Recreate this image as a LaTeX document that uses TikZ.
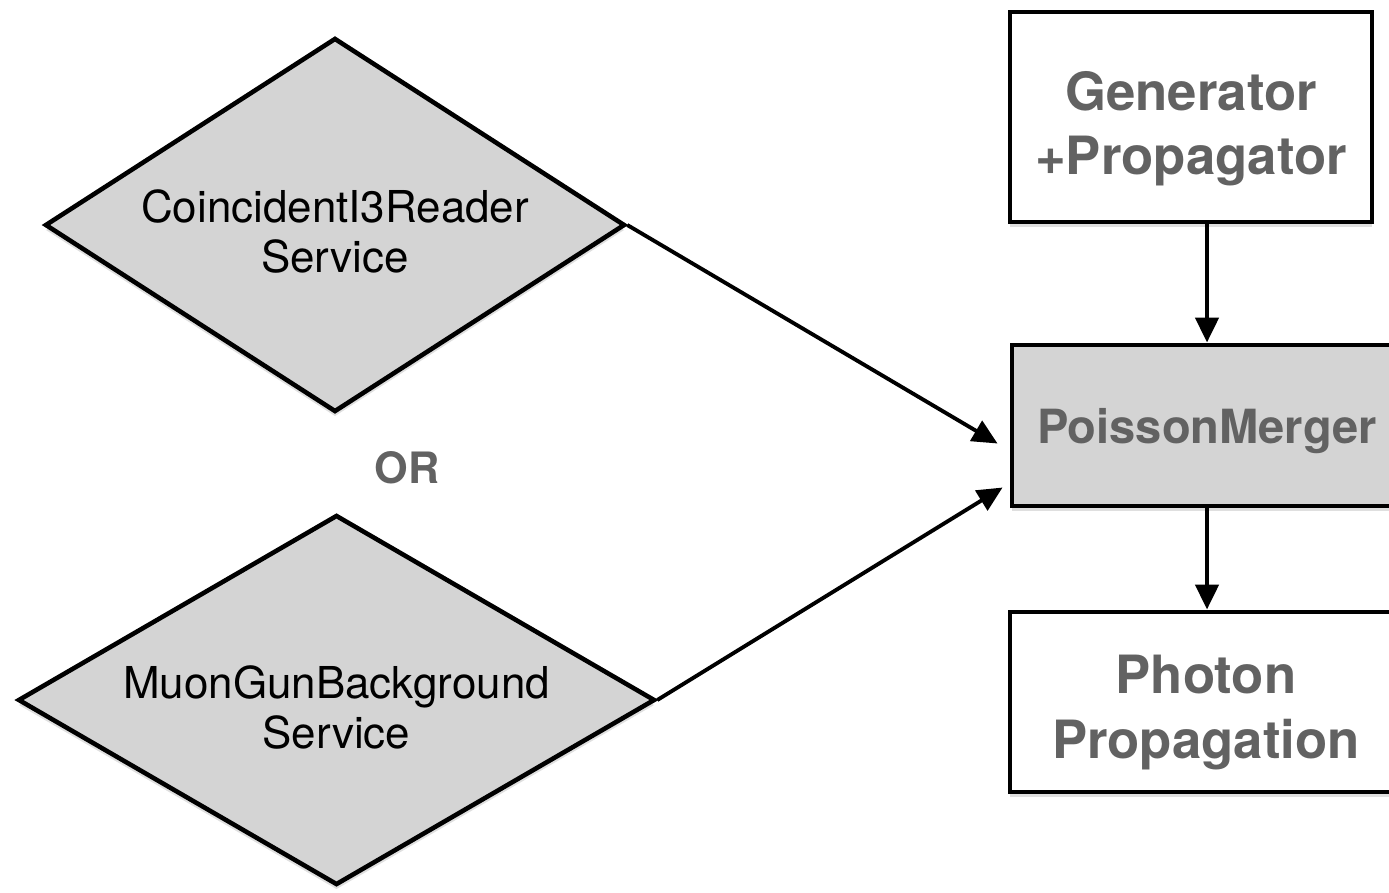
\documentclass[tikz,border=0pt]{standalone}
\usepackage{fontspec}
\setsansfont{TeX Gyre Heros}
\usepackage{xcolor}
\usepackage{tikz}
\usetikzlibrary{shapes, arrows.meta, positioning, calc, shadows}

\definecolor{textgray}{HTML}{626262}
\definecolor{fillgray}{HTML}{D4D4D4}

\begin{document}
\begin{tikzpicture}[
    font=\sffamily,
    % boxes on the right, bold gray text
    box/.style={rectangle, draw=black, line width=1.4pt, fill=white, align=center, inner sep=0pt, text depth=-2.5pt, text=textgray, font=\sffamily\bfseries\fontsize{15pt}{18.4pt}\selectfont, drop shadow={shadow xshift=0pt, shadow yshift=-0.05cm, opacity=0.25}},
    % service diamonds on the left
    service/.style={diamond, draw=black, line width=1.3pt, fill=fillgray, align=center, inner sep=0pt, font=\sffamily\fontsize{12.5pt}{14.2pt}\selectfont, drop shadow={shadow xshift=0pt, shadow yshift=-0.05cm, opacity=0.25}},
    arrow/.style={-{Triangle[length=0.25cm, width=0.23cm]}, line width=1.1pt, color=black},
    labeltext/.style={font=\sffamily\bfseries\fontsize{12.3pt}{14pt}\selectfont, text=textgray}
]

\useasboundingbox (0,0) rectangle (13.89,-8.92);
\clip (0,0) rectangle (13.89,-8.92);

% =========================================================
% RIGHT COLUMN: CHAIN
% =========================================================
\node[box, minimum width=3.62cm, minimum height=2.10cm, text height=33pt] (generator) at (11.91,-1.17) {Generator\\+Propagator};

\node[box, fill=fillgray, minimum width=3.90cm, minimum height=1.61cm, text depth=-2.8pt, font=\sffamily\bfseries\fontsize{13.4pt}{16pt}\selectfont] (merger) at (12.07,-4.255) {PoissonMerger};

\node[box, minimum width=3.92cm, minimum height=1.80cm, text height=32pt] (photon) at (12.06,-7.02) {Photon\\Propagation};

\draw[arrow, line width=1.3pt] (generator.south -| merger.north) -- (merger.north);
\draw[arrow, line width=1.3pt] (merger.south) -- (merger.south |- photon.north);

% =========================================================
% LEFT COLUMN: BACKGROUND SERVICES
% =========================================================
\node[service, aspect=1.55, minimum width=5.80cm, minimum height=3.74cm, text height=27pt] (coincident) at (3.35,-2.25) {CoincidentI3Reader\\Service};

\node[labeltext] (or) at (4.07,-4.68) {OR};

\node[service, aspect=1.72, minimum width=6.37cm, minimum height=3.70cm, text height=28pt] (muongun) at (3.365,-7.00) {MuonGunBackground\\Service};

\draw[arrow] (coincident.east) -- ([xshift=-0.12cm, yshift=-0.18cm]merger.west);
\draw[arrow] (muongun.east) -- ([xshift=-0.07cm, yshift=-0.62cm]merger.west);

\end{tikzpicture}
\end{document}
